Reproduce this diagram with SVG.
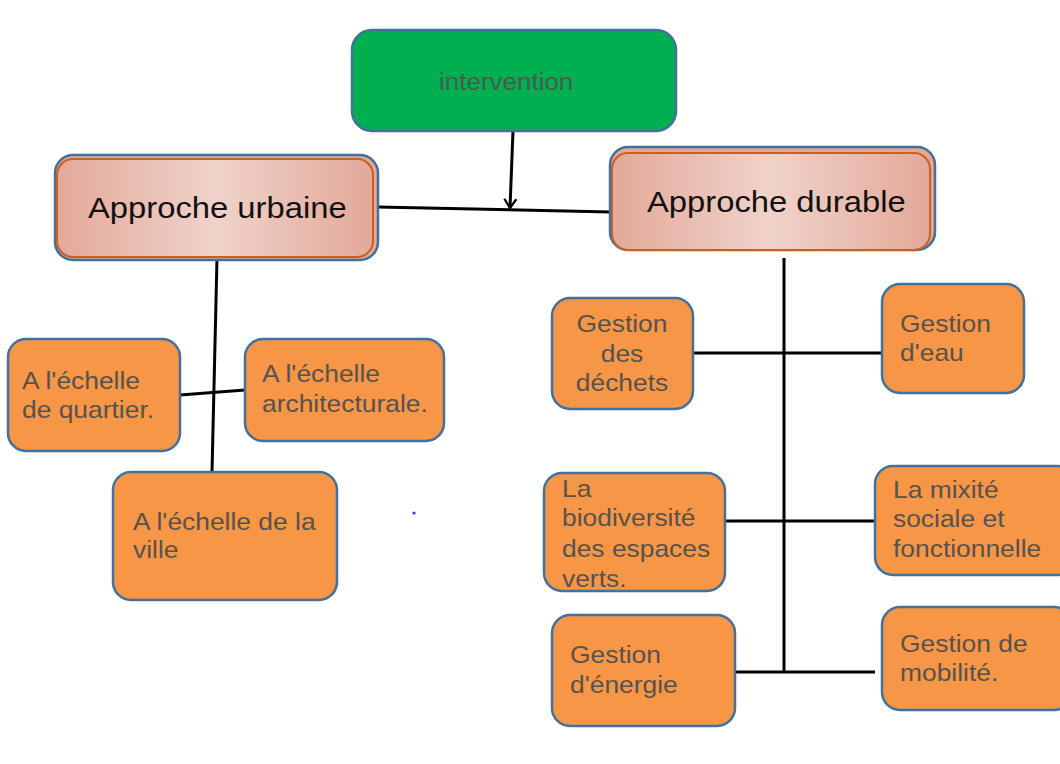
<svg xmlns="http://www.w3.org/2000/svg" width="1060" height="764" viewBox="0 0 1060 764">
<defs>
<linearGradient id="pink" x1="0" y1="0" x2="1" y2="0">
<stop offset="0" stop-color="#E3A999"/>
<stop offset="0.5" stop-color="#F0D2CA"/>
<stop offset="1" stop-color="#E3A999"/>
</linearGradient>
<marker id="arr" markerWidth="14" markerHeight="14" refX="10" refY="7" orient="auto" markerUnits="userSpaceOnUse">
<path d="M1,1 L10,7 L1,13" fill="none" stroke="#000" stroke-width="2.2"/>
</marker>
<style>
.box{fill:#F79646;stroke:#41719C;stroke-width:2.5}
.green{fill:#00B050;stroke:#41719C;stroke-width:2.5}
.outer{fill:#E6A88E;stroke:#41719C;stroke-width:2.5}
.inner{fill:url(#pink);stroke:#C0622A;stroke-width:2}
.t{font-family:"Liberation Sans",Arial,sans-serif;font-size:24px;fill:#57524D}
.h{font-family:"Liberation Sans",Arial,sans-serif;font-size:29px;fill:#111}
.i{font-family:"Liberation Sans",Arial,sans-serif;font-size:23px;fill:#4A5A50}
.c line, .c path{stroke:#000;stroke-width:3;fill:none}
</style>
</defs>
<rect width="1060" height="764" fill="#fff"/>

<g class="c" id="connectors">
<line x1="513" y1="131" x2="510" y2="208" marker-end="url(#arr)"/>
<line x1="378" y1="207" x2="611" y2="212"/>
<line x1="217" y1="258" x2="212" y2="472"/>
<line x1="180" y1="395" x2="245" y2="390"/>
<line x1="784" y1="258" x2="784" y2="672"/>
<line x1="693" y1="353" x2="882" y2="353"/>
<line x1="725" y1="521" x2="874" y2="521"/>
<line x1="735" y1="672" x2="875" y2="672"/>
</g>

<g id="intervention">
<rect class="green" x="352" y="30" width="324" height="101" rx="20"/>
<text class="i" transform="translate(439,90) scale(1.13,1)">intervention</text>
</g>

<g id="approche-urbaine">
<rect class="outer" x="55" y="155" width="323" height="105" rx="18"/>
<rect class="inner" x="57" y="159" width="316" height="98" rx="16"/>
<text class="h" transform="translate(88,218) scale(1.13,1)">Approche urbaine</text>
</g>

<g id="approche-durable">
<rect class="outer" x="610" y="147" width="325" height="103" rx="18"/>
<rect class="inner" x="612" y="153" width="318" height="97" rx="16"/>
<text class="h" transform="translate(647,212) scale(1.13,1)">Approche durable</text>
</g>

<g id="echelle-quartier">
<rect class="box" x="8" y="339" width="172" height="112" rx="18"/>
<text class="t" transform="translate(22,389) scale(1.1,1)"><tspan x="0" y="0">A l'échelle</tspan><tspan x="0" y="29">de quartier.</tspan></text>
</g>

<g id="echelle-architecturale">
<rect class="box" x="245" y="339" width="199" height="102" rx="18"/>
<text class="t" transform="translate(262,382) scale(1.1,1)"><tspan x="0" y="0">A l'échelle</tspan><tspan x="0" y="30">architecturale.</tspan></text>
</g>

<g id="echelle-ville">
<rect class="box" x="113" y="472" width="224" height="128" rx="18"/>
<text class="t" transform="translate(133,530) scale(1.1,1)"><tspan x="0" y="0">A l'échelle de la</tspan><tspan x="0" y="28">ville</tspan></text>
</g>

<circle cx="414" cy="513" r="1.6" fill="#3B3BE0"/>

<g id="gestion-dechets">
<rect class="box" x="552" y="298" width="141" height="111" rx="18"/>
<text class="t" text-anchor="middle" transform="translate(622,332) scale(1.1,1)"><tspan x="0" y="0">Gestion</tspan><tspan x="0" y="30">des</tspan><tspan x="0" y="59">déchets</tspan></text>
</g>

<g id="gestion-eau">
<rect class="box" x="882" y="284" width="142" height="109" rx="18"/>
<text class="t" transform="translate(900,332) scale(1.1,1)"><tspan x="0" y="0">Gestion</tspan><tspan x="0" y="29">d'eau</tspan></text>
</g>

<g id="biodiversite">
<rect class="box" x="544" y="473" width="181" height="118" rx="18"/>
<text class="t" transform="translate(562,497) scale(1.1,1)"><tspan x="0" y="0">La</tspan><tspan x="0" y="29">biodiversité</tspan><tspan x="0" y="60">des espaces</tspan><tspan x="0" y="90">verts.</tspan></text>
</g>

<g id="mixite">
<rect class="box" x="875" y="466" width="200" height="109" rx="18"/>
<text class="t" transform="translate(893,498) scale(1.1,1)"><tspan x="0" y="0">La mixité</tspan><tspan x="0" y="29">sociale et</tspan><tspan x="0" y="59">fonctionnelle</tspan></text>
</g>

<g id="gestion-energie">
<rect class="box" x="552" y="615" width="183" height="111" rx="18"/>
<text class="t" transform="translate(570,663) scale(1.1,1)"><tspan x="0" y="0">Gestion</tspan><tspan x="0" y="30">d'énergie</tspan></text>
</g>

<g id="gestion-mobilite">
<rect class="box" x="882" y="607" width="190" height="103" rx="18"/>
<text class="t" transform="translate(900,652) scale(1.1,1)"><tspan x="0" y="0">Gestion de</tspan><tspan x="0" y="29">mobilité.</tspan></text>
</g>
</svg>
